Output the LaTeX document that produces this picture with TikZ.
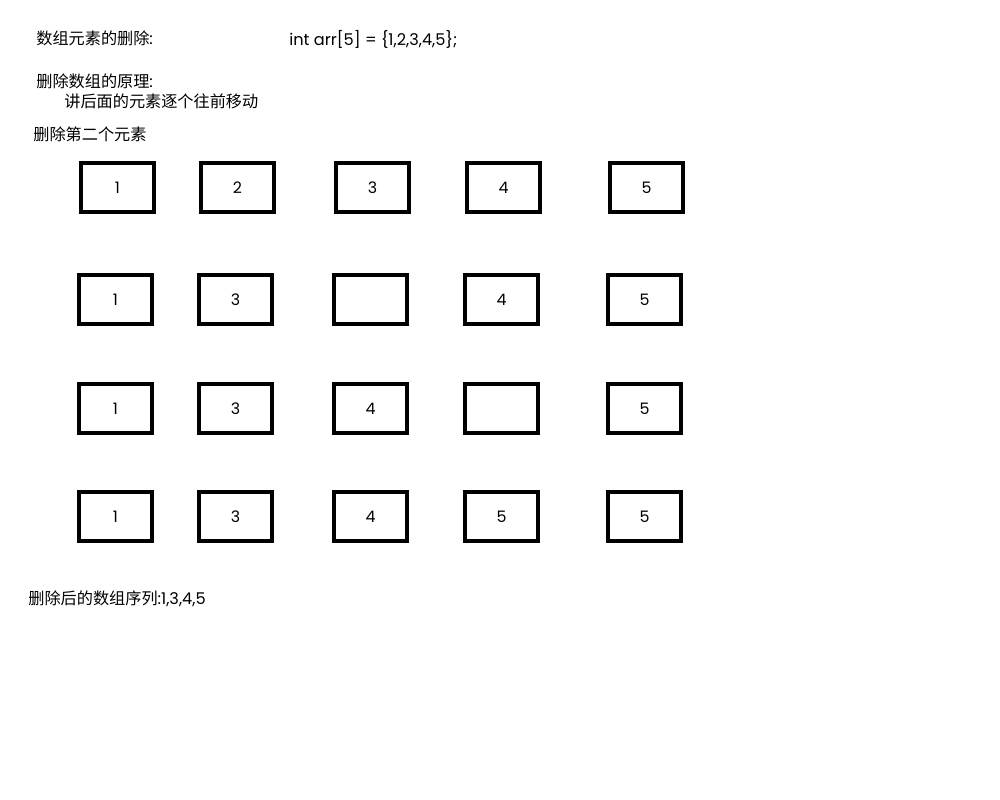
\documentclass[tikz,border=0pt]{standalone}
\usepackage{fontspec}
\setmainfont{Poppins}
\newfontfamily\cjk{Noto Sans CJK SC}
\usetikzlibrary{positioning}

\begin{document}
\begin{tikzpicture}[
        x=0.02cm, y=-0.02cm,
        cell/.style={draw, line width=2.3pt, minimum width=1.46cm, minimum height=0.98cm, inner sep=0pt, font=\fontsize{9}{10}\selectfont},
        note/.style={anchor=west, inner sep=0pt, font=\fontsize{9.2}{11}\selectfont}
    ]
    \useasboundingbox (0,0) rectangle (1000,800);

    % Texts at the top
    \node[note] (title) at (36, 38) {{\cjk 数组元素的删除}:};
    \node[note] (decl) at (289, 39) {int arr[5] = \{1,2,3,4,5\};};
    \node[note] (principle) at (36, 81) {{\cjk 删除数组的原理}:};
    \node[note] (move) at (64, 101) {\cjk 讲后面的元素逐个往前移动};
    \node[note] (second) at (33, 134) {\cjk 删除第二个元素};

    % Row 1: the array
    \node[cell] (a1) at (117.5, 187.5) {1};
    \node[cell] (a2) at (237.5, 187.5) {2};
    \node[cell] (a3) at (372.5, 187.5) {3};
    \node[cell] (a4) at (503.5, 187.5) {4};
    \node[cell] (a5) at (646.5, 187.5) {5};

    % Row 2
    \node[cell] (b1) at (115.5, 299.5) {1};
    \node[cell] (b2) at (235.5, 299.5) {3};
    \node[cell] (b3) at (370.5, 299.5) {};
    \node[cell] (b4) at (501.5, 299.5) {4};
    \node[cell] (b5) at (644.5, 299.5) {5};

    % Row 3
    \node[cell] (c1) at (115.5, 408.5) {1};
    \node[cell] (c2) at (235.5, 408.5) {3};
    \node[cell] (c3) at (370.5, 408.5) {4};
    \node[cell] (c4) at (501.5, 408.5) {};
    \node[cell] (c5) at (644.5, 408.5) {5};

    % Row 4: after the deletion
    \node[cell] (d1) at (115.5, 516.5) {1};
    \node[cell] (d2) at (235.5, 516.5) {3};
    \node[cell] (d3) at (370.5, 516.5) {4};
    \node[cell] (d4) at (501.5, 516.5) {5};
    \node[cell] (d5) at (644.5, 516.5) {5};

    % Result
    \node[note] (result) at (28, 599) {{\cjk 删除后的数组序列}:1,3,4,5};
\end{tikzpicture}
\end{document}
